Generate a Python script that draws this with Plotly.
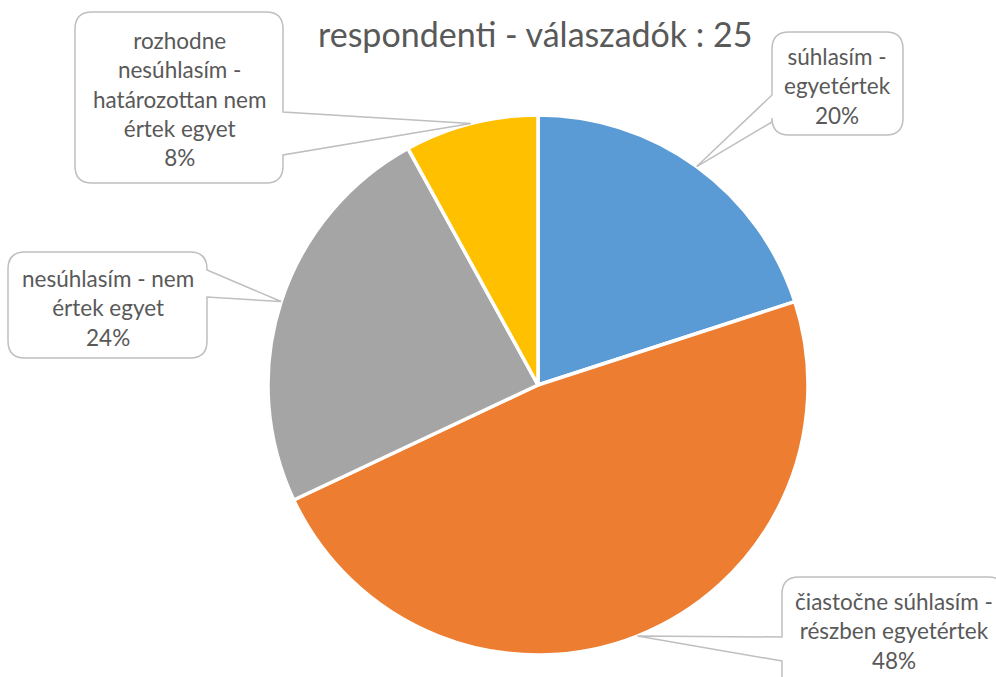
import math
import plotly.graph_objects as go

W, H = 996, 677

labels = [
    "súhlasím -<br>egyetértek",
    "čiastočne súhlasím -<br>részben egyetértek",
    "nesúhlasím - nem<br>értek egyet",
    "rozhodne<br>nesúhlasím -<br>határozottan nem<br>értek egyet",
]
values = [20, 48, 24, 8]
colors = ["#5B9BD5", "#ED7D31", "#A5A5A5", "#FFC000"]
title_text = "respondenti - válaszadók : 25"

# pie geometry in pixels
cx, cy, r = 538, 385, 270

# callout boxes: (x0, y0, x1, y1, side, attach_a, attach_b, text_center_y)
boxes = [
    (772, 32, 903, 135, "left", 95, 122, 86),
    (782, 577, 1005, 705, "left", 637, 661, 631),
    (8, 252, 207, 358, "right", 270, 297, 308),
    (75, 12, 283, 183, "right", 112, 155, 99),
]


def px(x, y):
    return x / W, 1 - y / H


def fmt(pts):
    return " ".join(f"{a:.5f},{b:.5f}" for a, b in (px(*p) for p in pts))


def callout_path(x0, y0, x1, y1, side, a, b, tip, rad=17):
    p = f"M {fmt([(x0 + rad, y0)])} L {fmt([(x1 - rad, y0)])} Q {fmt([(x1, y0), (x1, y0 + rad)])} "
    if side == "right":
        p += f"L {fmt([(x1, a)])} L {fmt([tip])} L {fmt([(x1, b)])} "
    p += f"L {fmt([(x1, y1 - rad)])} Q {fmt([(x1, y1), (x1 - rad, y1)])} "
    p += f"L {fmt([(x0 + rad, y1)])} Q {fmt([(x0, y1), (x0, y1 - rad)])} "
    if side == "left":
        p += f"L {fmt([(x0, b)])} L {fmt([tip])} L {fmt([(x0, a)])} "
    p += f"L {fmt([(x0, y0 + rad)])} Q {fmt([(x0, y0), (x0 + rad, y0)])} Z"
    return p


fig = go.Figure()

fig.add_trace(
    go.Pie(
        labels=labels,
        values=values,
        sort=False,
        direction="clockwise",
        rotation=0,
        marker=dict(colors=colors, line=dict(color="white", width=3.5)),
        textinfo="none",
        hoverinfo="label+percent",
        showlegend=False,
        domain=dict(x=[(cx - r) / W, (cx + r) / W], y=[1 - (cy + r) / H, 1 - (cy - r) / H]),
    )
)

total = sum(values)
cum = 0
shapes = []
annotations = []
for lab, v, box in zip(labels, values, boxes):
    mid = (cum + v / 2) / total * 2 * math.pi
    cum += v
    tip = (cx + r * math.sin(mid), cy - r * math.cos(mid))
    x0, y0, x1, y1, side, a, b, text_y = box
    shapes.append(
        dict(
            type="path",
            xref="paper",
            yref="paper",
            path=callout_path(x0, y0, x1, y1, side, a, b, tip),
            line=dict(color="#BFBFBF", width=1.5),
            fillcolor="white",
            layer="above",
        )
    )
    pct = round(v / total * 100)
    tx, ty = px((x0 + x1) / 2, text_y)
    annotations.append(
        dict(
            x=tx,
            y=ty,
            xref="paper",
            yref="paper",
            text=f"{lab}<br>{pct}%",
            showarrow=False,
            align="center",
            xanchor="center",
            yanchor="middle",
            font=dict(family="Lato, Carlito, sans-serif", size=22.5, color="#595959"),
        )
    )

tx, ty = px(535, 34)
annotations.append(
    dict(
        x=tx,
        y=ty,
        xref="paper",
        yref="paper",
        text=title_text,
        showarrow=False,
        xanchor="center",
        yanchor="middle",
        font=dict(family="Lato, Carlito, sans-serif", size=34, color="#595959"),
    )
)

fig.update_layout(
    width=W,
    height=H,
    margin=dict(l=0, r=0, t=0, b=0),
    paper_bgcolor="white",
    plot_bgcolor="white",
    shapes=shapes,
    annotations=annotations,
)

fig.write_html(
    "out.html",
    config={"displayModeBar": False},
    post_script="document.body.style.margin='0';",
)
